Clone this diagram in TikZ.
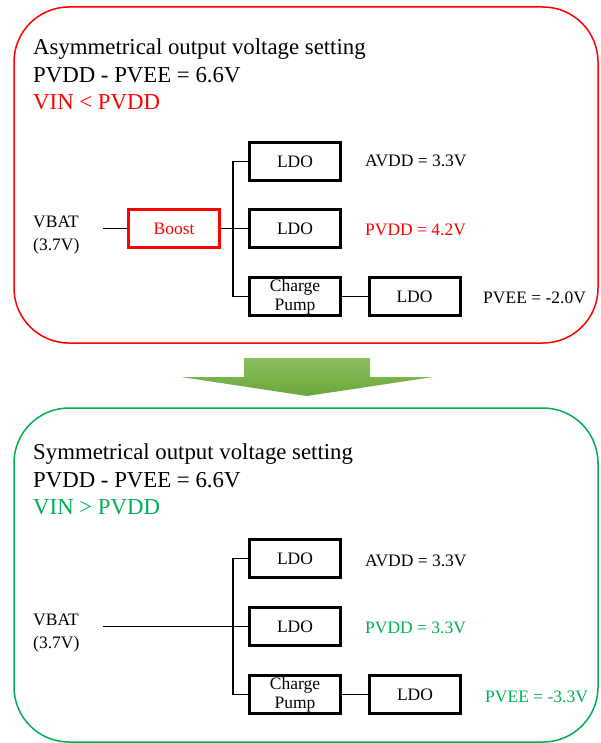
\documentclass[tikz,border=0pt]{standalone}
\usepackage{fontspec}
\setmainfont{Liberation Serif}
\definecolor{myred}{RGB}{255,0,0}
\definecolor{mygreen}{RGB}{0,176,80}
\definecolor{arrtop}{RGB}{140,190,95}
\definecolor{arrbot}{RGB}{106,168,58}
\tikzset{
  panel/.style={line width=1.5pt, rounded corners=55pt},
  blk/.style={draw, line width=3pt, minimum width=91pt, minimum height=38pt, inner sep=0pt,
    font=\fontsize{17.5}{20}\selectfont, align=center},
  wire/.style={line width=1.5pt},
  title/.style={anchor=base west, inner sep=0pt, font=\fontsize{22.8}{27.5}\selectfont},
  lbl/.style={anchor=base west, inner sep=0pt, font=\fontsize{17.5}{20}\selectfont},
}
\begin{document}
\begin{tikzpicture}[x=1pt, y=-1pt]
\useasboundingbox (0,0) rectangle (600,743);
% panels
\draw[panel, myred] (14,7) rectangle (598,343);
\draw[panel, mygreen] (14,408) rectangle (598,742);
% arrow
\shade[top color=arrtop, bottom color=arrbot]
  (244,358) -- (370,358) -- (370,377) -- (433,377) -- (307,396) -- (181,377) -- (244,377) -- cycle;

% ---------- top panel ----------
\node[title] (tA1) at (33,55) {Asymmetrical output voltage setting};
\node[title] (tA2) at (33,83) {PVDD - PVEE = 6.6V};
\node[title, text=myred] (tA3) at (33,110) {VIN < PVDD};

\node[lbl] (vbatA) at (33,227) {VBAT};
\node[lbl] (vbatAv) at (33,250) {(3.7V)};
\coordinate (inA) at (103,228.5);

\node[blk, draw=myred, text=myred] (boost) at (174,228.5) {Boost};
\node[blk] (ldoA1) at (295,161.5) {LDO};
\node[blk] (ldoA2) at (295,228.5) {LDO};
\node[blk] (cpA) at (295,296.5) {Charge\\[-1pt]Pump};
\node[blk] (ldoA3) at (414.5,296.5) {LDO};

\coordinate (busAt) at (233,161.5);
\coordinate (busAb) at (233,296.5);
\draw[wire] (inA) -- (boost.west);
\draw[wire] (boost.east) -- (ldoA2.west);
\draw[wire] (ldoA1.west) -- (busAt) -- (busAb) -- (cpA.west);
\draw[wire] (cpA.east) -- (ldoA3.west);

\node[lbl] (avddA) at (365,167) {AVDD = 3.3V};
\node[lbl, text=myred] (pvddA) at (365,235) {PVDD = 4.2V};
\node[lbl] (pveeA) at (483,303) {PVEE = -2.0V};

% ---------- bottom panel ----------
\node[title] (tB1) at (33,459) {Symmetrical output voltage setting};
\node[title] (tB2) at (33,487) {PVDD - PVEE = 6.6V};
\node[title, text=mygreen] (tB3) at (33,514) {VIN > PVDD};

\node[lbl] (vbatB) at (33,625) {VBAT};
\node[lbl] (vbatBv) at (33,648) {(3.7V)};
\coordinate (inB) at (103,626.5);

\node[blk] (ldoB1) at (295,558.5) {LDO};
\node[blk] (ldoB2) at (295,626.5) {LDO};
\node[blk] (cpB) at (295,694.5) {Charge\\[-1pt]Pump};
\node[blk] (ldoB3) at (415,694.5) {LDO};

\coordinate (busBt) at (233,558.5);
\coordinate (busBb) at (233,694.5);
\draw[wire] (inB) -- (ldoB2.west);
\draw[wire] (ldoB1.west) -- (busBt) -- (busBb) -- (cpB.west);
\draw[wire] (cpB.east) -- (ldoB3.west);

\node[lbl] (avddB) at (365,566) {AVDD = 3.3V};
\node[lbl, text=mygreen] (pvddB) at (365,633) {PVDD = 3.3V};
\node[lbl, text=mygreen] (pveeB) at (485,702) {PVEE = -3.3V};
\end{tikzpicture}
\end{document}
